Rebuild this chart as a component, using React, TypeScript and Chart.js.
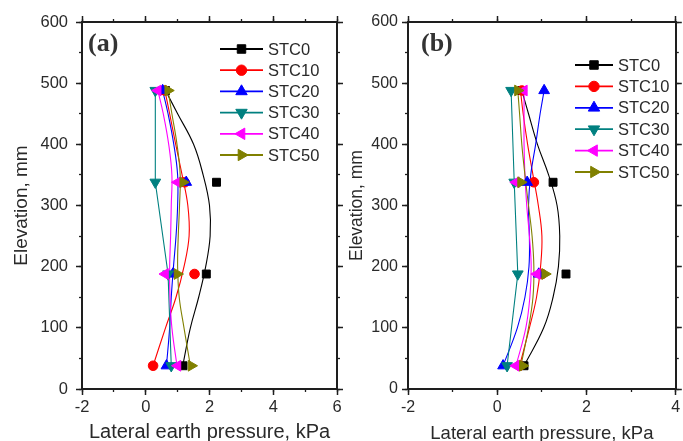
import React, { useEffect, useRef } from 'react';
import { Chart, registerables } from 'chart.js';
import { drawPoint } from 'chart.js/helpers';

Chart.register(...registerables);

// ---------- DATA ----------
const SERIES_NAMES = ['STC0', 'STC10', 'STC20', 'STC30', 'STC40', 'STC50'];
const ELEVATION = [38, 188, 338, 488];
const CURVE_ELEVATION = [38, 100, 150, 200, 250, 300, 350, 400, 450, 488];
const Y_TICKS = [0, 100, 200, 300, 400, 500, 600];
const A_X_TICKS = [-2, 0, 2, 4, 6];
const B_X_TICKS = [-2, 0, 2, 4];

// Panel (a) measured points (kPa) at ELEVATION
const A_STC0 = [1.17, 1.9, 2.22, 0.62];
const A_STC10 = [0.23, 1.53, 1.22, 0.6];
const A_STC20 = [0.65, 0.85, 1.27, 0.53];
const A_STC30 = [0.8, 0.7, 0.3, 0.3];
const A_STC40 = [1.0, 0.61, 1.0, 0.38];
const A_STC50 = [1.43, 0.99, 1.17, 0.7];

// Panel (a) fitted curves at CURVE_ELEVATION (null = joined markers)
const A_FIT_STC0 = [1.16, 1.4, 1.66, 1.88, 2.02, 2.0, 1.8, 1.5, 1.0, 0.62];
const A_FIT_STC10 = [0.23, 0.62, 0.95, 1.2, 1.36, 1.32, 1.14, 0.94, 0.75, 0.6];
const A_FIT_STC20 = [0.65, 0.75, 0.8, 0.87, 0.95, 1.0, 1.0, 0.88, 0.7, 0.53];
const A_FIT_STC30 = null;
const A_FIT_STC40 = [0.98, 0.82, 0.76, 0.75, 0.78, 0.8, 0.82, 0.72, 0.55, 0.38];
const A_FIT_STC50 = [1.4, 1.2, 1.05, 1.0, 1.02, 1.06, 1.08, 0.98, 0.82, 0.7];

// Panel (b) measured points
const B_STC0 = [0.6, 1.54, 1.25, 0.55];
const B_STC10 = [0.5, 1.0, 0.82, 0.55];
const B_STC20 = [0.13, 0.93, 0.67, 1.05];
const B_STC30 = [0.22, 0.46, 0.38, 0.31];
const B_STC40 = [0.42, 0.89, 0.42, 0.6];
const B_STC50 = [0.57, 1.07, 0.53, 0.46];

// Panel (b) fitted curves
const B_FIT_STC0 = [0.6, 1.04, 1.25, 1.37, 1.4, 1.34, 1.15, 0.9, 0.7, 0.55];
const B_FIT_STC10 = [0.5, 0.72, 0.88, 0.97, 1.0, 0.92, 0.8, 0.68, 0.58, 0.52];
const B_FIT_STC20 = [0.13, 0.45, 0.62, 0.71, 0.72, 0.7, 0.75, 0.86, 0.96, 1.05];
const B_FIT_STC30 = null;
const B_FIT_STC40 = [0.42, 0.64, 0.73, 0.76, 0.72, 0.66, 0.62, 0.6, 0.6, 0.6];
const B_FIT_STC50 = [0.53, 0.7, 0.8, 0.82, 0.78, 0.7, 0.62, 0.55, 0.5, 0.46];

const X_TITLE = 'Lateral earth pressure, kPa';
const Y_TITLE = 'Elevation, mm';

// ---------- STYLE ----------
const COLORS = ['#000000', '#ff0000', '#0000ff', '#008080', '#ff00ff', '#808000'];
const STYLES = ['rect', 'circle', 'triangle', 'triangle', 'triangle', 'triangle'];
const ROTS = [0, 0, 0, 180, 270, 90];
const RADII = [5.6, 4.8, 6.2, 6.2, 6.2, 6.2];
const TEXT = '#2a2a2a';
const AXIS = '#1e1e1e';
const SANS = '"Liberation Sans", Arial, sans-serif';
const SERIF = '"Liberation Serif", "Times New Roman", serif';
const H = 441;

const PANELS = [
  {
    label: '(a)', left: 0, width: 345,
    area: { left: 82, right: 337, top: 22, bottom: 389 },
    xTicks: A_X_TICKS,
    markers: [A_STC0, A_STC10, A_STC20, A_STC30, A_STC40, A_STC50],
    fits: [A_FIT_STC0, A_FIT_STC10, A_FIT_STC20, A_FIT_STC30, A_FIT_STC40, A_FIT_STC50],
    tickSize: 16.5, yTickPad: 8, xTickPad: 3,
    xTitleSize: 20, xTitlePadBottom: -3.4,
    yTitleSize: 19, yTitlePadTop: 10.6,
    legend: { x0: 220, x1: 263, textX: 268, y0: 49, dy: 21.2, size: 16.5 },
    labelPos: { x: 88, y: 44, size: 26 },
  },
  {
    label: '(b)', left: 345, width: 338,
    area: { left: 63, right: 335, top: 22, bottom: 389 },
    xTicks: B_X_TICKS,
    markers: [B_STC0, B_STC10, B_STC20, B_STC30, B_STC40, B_STC50],
    fits: [B_FIT_STC0, B_FIT_STC10, B_FIT_STC20, B_FIT_STC30, B_FIT_STC40, B_FIT_STC50],
    tickSize: 16, yTickPad: 4, xTickPad: 3,
    xTitleSize: 18.5, xTitlePadBottom: -3.7,
    yTitleSize: 17.5, yTitlePadTop: 1.5,
    legend: { x0: 230, x1: 268, textX: 273, y0: 65, dy: 21.4, size: 16.5 },
    labelPos: { x: 76, y: 44, size: 26 },
  },
];

const overlayPlugin = {
  id: 'overlay',
  afterDraw(chart: any, _args: any, opts: any) {
    const ctx = chart.ctx as CanvasRenderingContext2D;
    ctx.save();
    const lg = opts.legend;
    SERIES_NAMES.forEach((name, i) => {
      const y = lg.y0 + i * lg.dy;
      ctx.strokeStyle = COLORS[i];
      ctx.lineWidth = 1.8;
      ctx.beginPath();
      ctx.moveTo(lg.x0, y);
      ctx.lineTo(lg.x1, y);
      ctx.stroke();
      ctx.fillStyle = COLORS[i];
      ctx.strokeStyle = COLORS[i];
      ctx.lineWidth = 1;
      drawPoint(ctx, { pointStyle: STYLES[i], rotation: ROTS[i], radius: RADII[i] + 0.4, borderWidth: 1 } as any, (lg.x0 + lg.x1) / 2, y);
      ctx.fillStyle = TEXT;
      ctx.font = `${lg.size}px ${SANS}`;
      ctx.textAlign = 'left';
      ctx.textBaseline = 'middle';
      ctx.fillText(name, lg.textX, y + 1);
    });
    const lp = opts.labelPos;
    ctx.fillStyle = '#333333';
    ctx.font = `bold ${lp.size}px ${SERIF}`;
    ctx.textAlign = 'left';
    ctx.textBaseline = 'middle';
    ctx.fillText(opts.label, lp.x, lp.y);
    ctx.restore();
  },
};

function buildConfig(p: any): any {
  const datasets: any[] = [];
  SERIES_NAMES.forEach((name, i) => {
    const fit = p.fits[i];
    const curve = fit
      ? CURVE_ELEVATION.map((e, k) => ({ x: fit[k], y: e }))
      : ELEVATION.map((e, k) => ({ x: p.markers[i][k], y: e }));
    datasets.push({
      label: name + ' curve',
      data: curve,
      showLine: true,
      borderColor: COLORS[i],
      backgroundColor: COLORS[i],
      borderWidth: 1.1,
      pointRadius: 0,
      tension: fit ? 0.4 : 0,
      fill: false,
      order: 30 - i,
    });
    datasets.push({
      label: name,
      data: ELEVATION.map((e, k) => ({ x: p.markers[i][k], y: e })),
      showLine: false,
      pointStyle: STYLES[i],
      pointRotation: ROTS[i],
      pointRadius: RADII[i],
      backgroundColor: COLORS[i],
      borderColor: COLORS[i],
      borderWidth: 1,
      order: 10 - i,
    });
  });

  const xMin = p.xTicks[0];
  const xMax = p.xTicks[p.xTicks.length - 1];
  const tickFont = { family: SANS, size: p.tickSize };
  const border = { display: true, color: AXIS, width: 2 };
  const noBorder = { display: false };
  const majorGrid = { drawOnChartArea: false, drawTicks: true, tickLength: 6, tickWidth: 1.5, tickColor: AXIS };
  const minorGrid = { drawOnChartArea: false, drawTicks: true, tickLength: 3, tickWidth: 1.3, tickColor: AXIS };
  const zeroH = (s: any) => { s.height = 0; s.paddingLeft = 0; s.paddingRight = 0; };
  const zeroW = (s: any) => { s.width = 0; s.paddingTop = 0; s.paddingBottom = 0; };

  return {
    type: 'scatter',
    data: { datasets },
    plugins: [overlayPlugin],
    options: {
      responsive: false,
      animation: false,
      devicePixelRatio: 1,
      layout: {
        padding: { left: 0, top: p.area.top, right: p.width - p.area.right, bottom: 0 },
      },
      plugins: {
        legend: { display: false },
        tooltip: { enabled: false },
        overlay: { legend: p.legend, labelPos: p.labelPos, label: p.label },
      },
      scales: {
        x: {
          type: 'linear', position: 'bottom', min: xMin, max: xMax, weight: 2,
          afterBuildTicks: (s: any) => { s.ticks = p.xTicks.map((v: number) => ({ value: v })); },
          ticks: { font: tickFont, color: TEXT, padding: p.xTickPad, maxRotation: 0, autoSkip: false },
          grid: majorGrid, border,
          title: {
            display: true, text: X_TITLE, color: TEXT,
            font: { family: SANS, size: p.xTitleSize },
            padding: { top: 0, bottom: p.xTitlePadBottom },
          },
          afterFit: (s: any) => { s.height = H - p.area.bottom; s.paddingLeft = 0; s.paddingRight = 0; },
        },
        xMinor: {
          type: 'linear', position: 'bottom', min: xMin, max: xMax, weight: 1,
          ticks: { display: false, stepSize: 1 }, grid: minorGrid, border: noBorder, afterFit: zeroH,
        },
        xTop: {
          type: 'linear', position: 'top', min: xMin, max: xMax, weight: 2,
          afterBuildTicks: (s: any) => { s.ticks = p.xTicks.map((v: number) => ({ value: v })); },
          ticks: { display: false }, grid: majorGrid, border, afterFit: zeroH,
        },
        xTopMinor: {
          type: 'linear', position: 'top', min: xMin, max: xMax, weight: 1,
          ticks: { display: false, stepSize: 1 }, grid: minorGrid, border: noBorder, afterFit: zeroH,
        },
        y: {
          type: 'linear', position: 'left', min: 0, max: 600, weight: 2,
          afterBuildTicks: (s: any) => { s.ticks = Y_TICKS.map((v) => ({ value: v })); },
          ticks: { font: tickFont, color: TEXT, padding: p.yTickPad },
          grid: majorGrid, border,
          title: {
            display: true, text: Y_TITLE, color: TEXT,
            font: { family: SANS, size: p.yTitleSize },
            padding: { top: p.yTitlePadTop, bottom: 0 },
          },
          afterFit: (s: any) => { s.width = p.area.left; s.paddingTop = 0; s.paddingBottom = 0; },
        },
        yMinor: {
          type: 'linear', position: 'left', min: 0, max: 600, weight: 1,
          ticks: { display: false, stepSize: 50 }, grid: minorGrid, border: noBorder, afterFit: zeroW,
        },
        yRight: {
          type: 'linear', position: 'right', min: 0, max: 600, weight: 2,
          ticks: { display: false, stepSize: 100 }, grid: majorGrid, border, afterFit: zeroW,
        },
        yRightMinor: {
          type: 'linear', position: 'right', min: 0, max: 600, weight: 1,
          ticks: { display: false, stepSize: 50 }, grid: minorGrid, border: noBorder, afterFit: zeroW,
        },
      },
    },
  };
}

function Panel({ cfg }: { cfg: any }) {
  const ref = useRef<HTMLCanvasElement>(null);
  useEffect(() => {
    const chart = new Chart(ref.current as HTMLCanvasElement, buildConfig(cfg));
    return () => chart.destroy();
  }, [cfg]);
  return (
    <div style={{ position: 'absolute', left: cfg.left, top: 0, width: cfg.width, height: H }}>
      <canvas ref={ref} width={cfg.width} height={H} style={{ width: cfg.width, height: H, display: 'block' }} />
    </div>
  );
}

export default function App() {
  return (
    <div style={{ position: 'fixed', left: 0, top: 0, width: 683, height: H, overflow: 'hidden', background: '#ffffff' }}>
      {PANELS.map((p) => (
        <Panel key={p.label} cfg={p} />
      ))}
    </div>
  );
}
